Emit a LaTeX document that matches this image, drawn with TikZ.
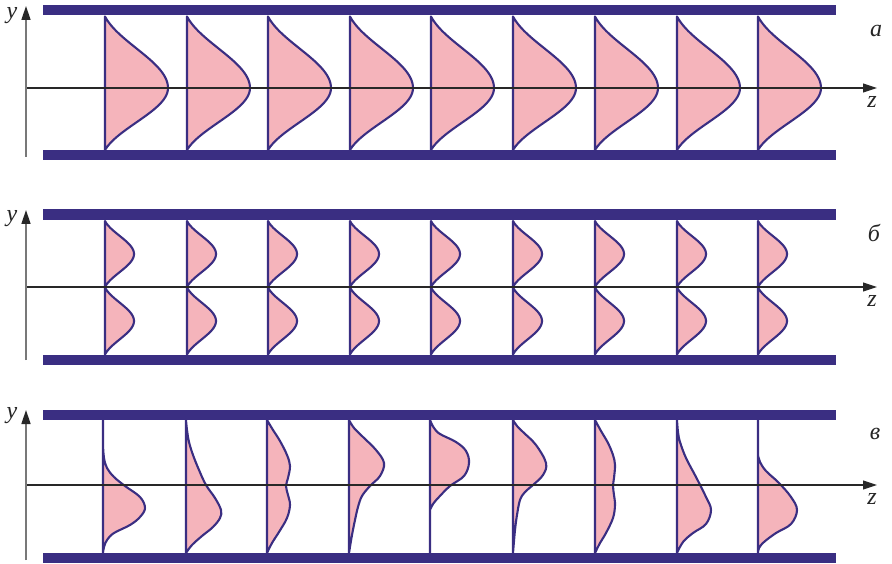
\documentclass[tikz,border=0pt]{standalone}
\usepackage{fontspec}
\setmainfont{Liberation Serif}
\newfontfamily\labfont{Liberation Serif}
\usetikzlibrary{arrows.meta}
\definecolor{plate}{RGB}{58,46,130}
\definecolor{pinkf}{RGB}{245,180,187}
\definecolor{axgray}{RGB}{120,120,120}
\definecolor{axdark}{RGB}{40,40,40}
\tikzset{
  prof/.style={draw=plate,fill=pinkf,line width=2.1pt,line join=round},
  platebar/.style={fill=plate,draw=none},
  zaxis/.style={draw=axdark,line width=1.1pt,-{Triangle[length=14pt,width=9pt]}},
  yaxis/.style={draw=axgray,line width=1.5pt,-{Triangle[length=14pt,width=9pt,color=axdark]}},
  lab/.style={font=\labfont\fontsize{24}{24}\selectfont\itshape,inner sep=0pt,text=black!85},
}
\begin{document}
\begin{tikzpicture}[x=1pt,y=-1pt]
\useasboundingbox[fill=white] (0,0) rectangle (892,564);
% plates
\fill[platebar] (43,5) rectangle (836,15.5);
\fill[platebar] (43,150.5) rectangle (836,160.5);
\fill[platebar] (43,209.5) rectangle (836,220);
\fill[platebar] (43,354.5) rectangle (836,364.5);
\fill[platebar] (43,409.5) rectangle (836,420);
\fill[platebar] (43,553) rectangle (836,563);
% panel a profiles
\foreach \xo in {105,187,268,350,431,513,595,677,758}{
  \filldraw[prof] (\xo,16.5)
   -- plot[domain=1:0,samples=40,variable=\e] ({\xo+63*(0.7*(cos(90*\e))^2+0.3*(1-\e*\e))},{88-71.5*\e})
   -- plot[domain=0:1,samples=40,variable=\e] ({\xo+63*(0.7*(cos(90*\e))^2+0.3*(1-\e*\e))},{88+62*\e})
   -- cycle;
}
% panel b profiles
\foreach \xo in {105,187,268,350,431,513,595,677,758}{
  \filldraw[prof] (\xo,221)
   -- plot[domain=-1:1,samples=50,variable=\e] ({\xo+29*(0.7*(cos(90*\e))^2+0.3*(1-\e*\e))},{254+33*\e})
   -- plot[domain=-1:1,samples=50,variable=\e] ({\xo+29*(0.7*(cos(90*\e))^2+0.3*(1-\e*\e))},{321+33.5*\e})
   -- cycle;
}
% panel c profiles
\filldraw[prof,shift={(103,0)}] (0,420) -- plot[smooth,tension=0.6] coordinates {(0,445)(1,458)(4,468)(11,477)(22,486)(37,497)(42,508)(37,517)(27,525)(11,533)(4,540)(1,547)(0,553)} -- cycle;
\filldraw[prof,shift={(186,0)}] (0,420) -- plot[smooth,tension=0.6] coordinates {(0,420)(1,430)(3,442)(7,455)(13,470)(20,485)(29,498)(35,510)(34,518)(27,527)(16,536)(6,545)(0,553)} -- cycle;
\filldraw[prof,shift={(267,0)}] (0,420) -- plot[smooth,tension=0.6] coordinates {(0,420)(6,430)(13,441)(20,455)(23,466)(21,478)(19,486)(21,495)(23,505)(20,518)(12,532)(5,543)(0,553)} -- cycle;
\filldraw[prof,shift={(349,0)}] (0,420) -- plot[smooth,tension=0.6] coordinates {(0,420)(5,428)(14,437)(27,450)(35,463)(31,476)(21,486)(13,496)(9,507)(6,520)(3,535)(0,553)} -- cycle;
\filldraw[prof,shift={(430,0)}] (0,420) -- plot[smooth,tension=0.6] coordinates {(0,420)(4,428)(10,434)(26,442)(36,451)(39,463)(34,476)(20,486)(9,497)(3,504)(0,510)} -- (0,553) -- cycle;
\filldraw[prof,shift={(513,0)}] (0,420) -- plot[smooth,tension=0.6] coordinates {(0,420)(4,426)(10,432)(23,445)(33,463)(30,475)(20,485)(12,492)(7,500)(4,515)(2,530)(0,553)} -- cycle;
\filldraw[prof,shift={(595,0)}] (0,420) -- plot[smooth,tension=0.6] coordinates {(0,420)(6,431)(13,443)(18,455)(20,465)(19,478)(18,486)(19,495)(20,505)(18,518)(11,533)(5,543)(0,553)} -- cycle;
\filldraw[prof,shift={(677,0)}] (0,420) -- plot[smooth,tension=0.6] coordinates {(0,420)(1,432)(3,442)(9,458)(19,477)(29,497)(34,510)(29,524)(16,533)(6,542)(0,553)} -- cycle;
\filldraw[prof,shift={(758,0)}] (0,420) -- plot[smooth,tension=0.6] coordinates {(0,455)(2,462)(8,471)(21,483)(33,497)(39,510)(33,524)(18,533)(6,542)(1,548)(0,553)} -- cycle;
% axes
\coordinate (a0) at (26,88); \coordinate (a1) at (877,88);
\coordinate (ay0) at (26,157); \coordinate (ay1) at (26,6);
\coordinate (b0) at (26,287); \coordinate (b1) at (877,287);
\coordinate (by0) at (26,360); \coordinate (by1) at (26,210);
\coordinate (c0) at (26,485); \coordinate (c1) at (877,485);
\coordinate (cy0) at (26,560); \coordinate (cy1) at (26,410);
\draw[zaxis] (a0) -- (a1);
\draw[zaxis] (b0) -- (b1);
\draw[zaxis] (c0) -- (c1);
\draw[yaxis] (ay0) -- (ay1);
\draw[yaxis] (by0) -- (by1);
\draw[yaxis] (cy0) -- (cy1);
% labels
\node[lab] (ya) at (12,16) {y};
\node[lab] (yb) at (12,219) {y};
\node[lab] (yc) at (12,416) {y};
\node[lab] (za) at (872,102) {z};
\node[lab] (zb) at (872,301) {z};
\node[lab] (zc) at (872,499) {z};
\node[lab] (la) at (876,31) {а};
\node[lab] (lb) at (874,233) {б};
\node[lab] (lc) at (875,434) {в};
\end{tikzpicture}
\end{document}
